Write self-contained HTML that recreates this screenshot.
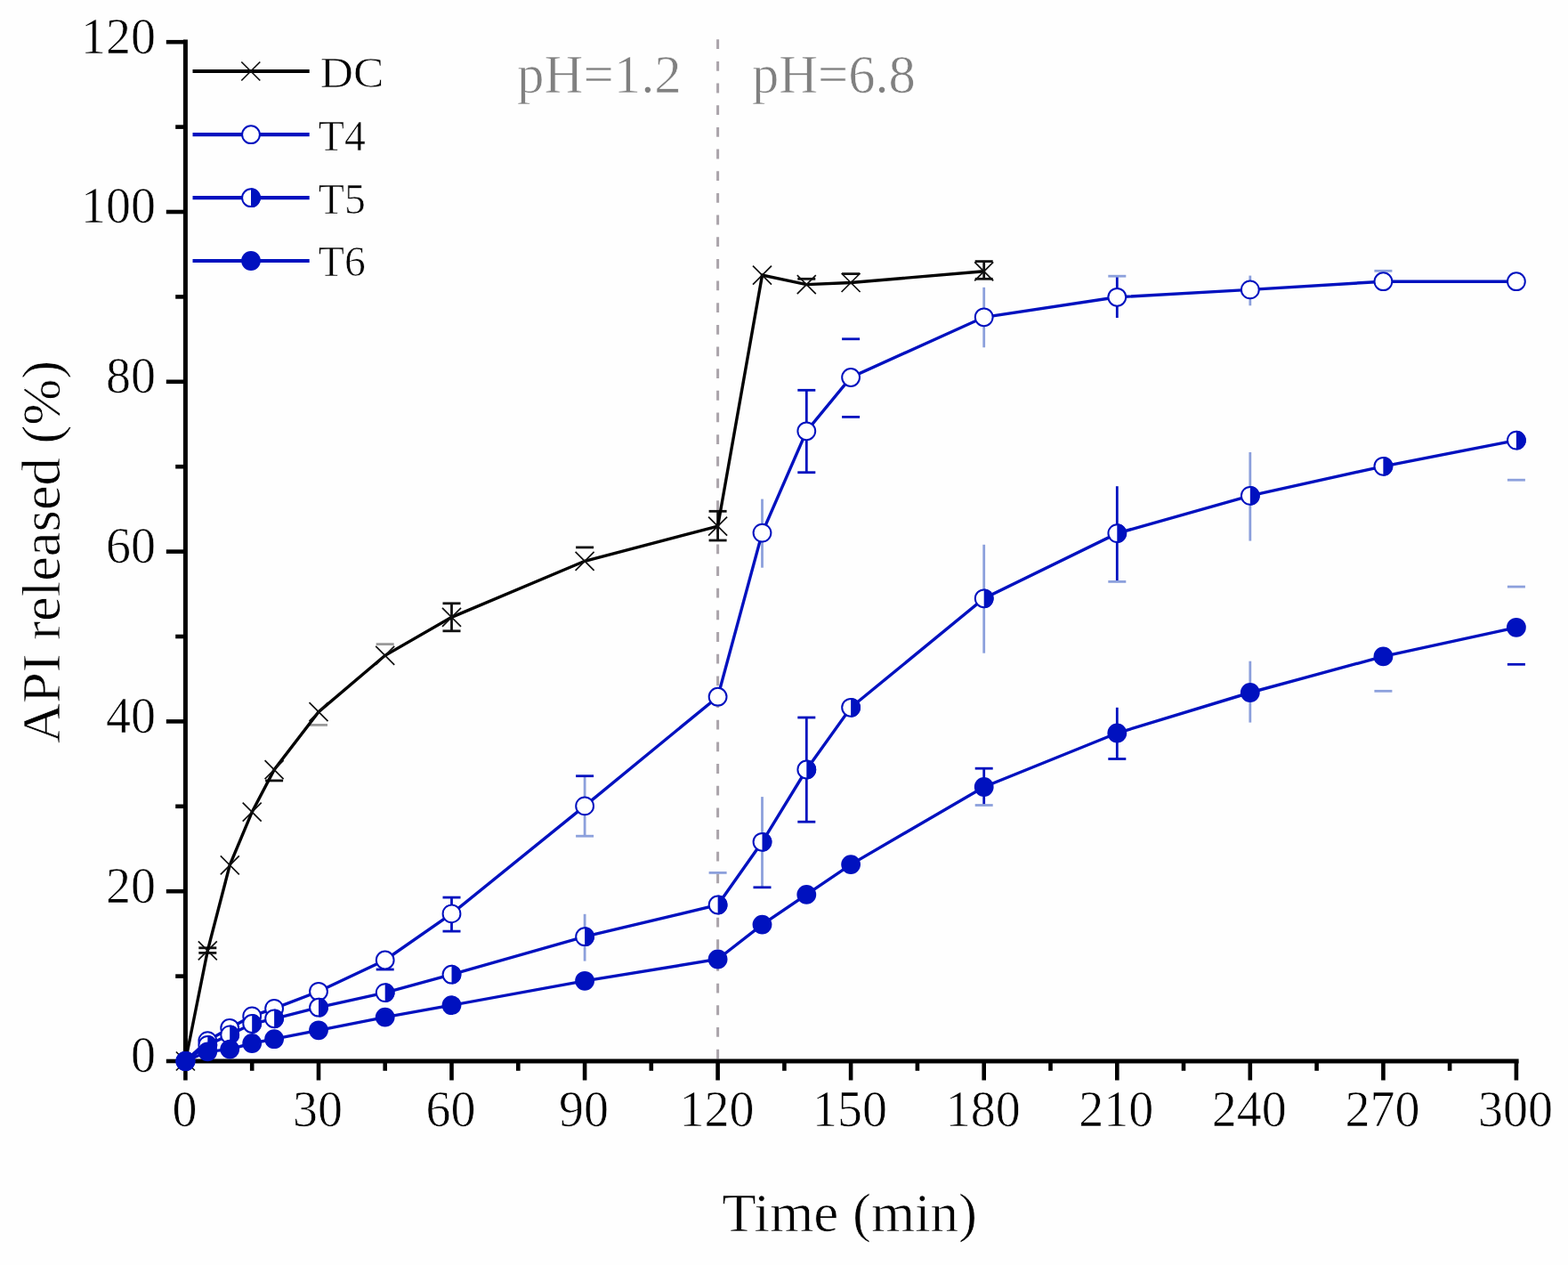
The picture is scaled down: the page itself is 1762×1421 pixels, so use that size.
<!DOCTYPE html>
<html><head><meta charset="utf-8"><title>API release chart</title>
<style>
html,body{margin:0;padding:0;background:#fefefe;}
svg{display:block;}
text{font-family:"Liberation Serif",serif;stroke:#fefefe;stroke-width:0.7px;}
</style></head><body>
<svg width="1762" height="1421" viewBox="0 0 1762 1421">
<rect x="0" y="0" width="1762" height="1421" fill="#fefefe"/>

<line x1="806.6" y1="44.3" x2="806.6" y2="1190" stroke="#aaa4aa" stroke-width="3" stroke-dasharray="10.8 13.86"/>
<line x1="208.4" y1="44.5" x2="208.4" y2="1194.5" stroke="#000" stroke-width="5"/>
<line x1="205.9" y1="1192.0" x2="1706.6" y2="1192.0" stroke="#000" stroke-width="5"/>
<line x1="186.8" y1="1192.0" x2="208.4" y2="1192.0" stroke="#000" stroke-width="4.6"/>
<line x1="197.2" y1="1096.6" x2="208.4" y2="1096.6" stroke="#000" stroke-width="4.6"/>
<line x1="186.8" y1="1001.2" x2="208.4" y2="1001.2" stroke="#000" stroke-width="4.6"/>
<line x1="197.2" y1="905.8" x2="208.4" y2="905.8" stroke="#000" stroke-width="4.6"/>
<line x1="186.8" y1="810.4" x2="208.4" y2="810.4" stroke="#000" stroke-width="4.6"/>
<line x1="197.2" y1="715.0" x2="208.4" y2="715.0" stroke="#000" stroke-width="4.6"/>
<line x1="186.8" y1="619.6" x2="208.4" y2="619.6" stroke="#000" stroke-width="4.6"/>
<line x1="197.2" y1="524.2" x2="208.4" y2="524.2" stroke="#000" stroke-width="4.6"/>
<line x1="186.8" y1="428.8" x2="208.4" y2="428.8" stroke="#000" stroke-width="4.6"/>
<line x1="197.2" y1="333.4" x2="208.4" y2="333.4" stroke="#000" stroke-width="4.6"/>
<line x1="186.8" y1="238.0" x2="208.4" y2="238.0" stroke="#000" stroke-width="4.6"/>
<line x1="197.2" y1="142.6" x2="208.4" y2="142.6" stroke="#000" stroke-width="4.6"/>
<line x1="186.8" y1="47.2" x2="208.4" y2="47.2" stroke="#000" stroke-width="4.6"/>
<line x1="208.4" y1="1192.0" x2="208.4" y2="1213.5" stroke="#000" stroke-width="4.6"/>
<line x1="283.2" y1="1192.0" x2="283.2" y2="1202.8" stroke="#000" stroke-width="4.6"/>
<line x1="358.0" y1="1192.0" x2="358.0" y2="1213.5" stroke="#000" stroke-width="4.6"/>
<line x1="432.7" y1="1192.0" x2="432.7" y2="1202.8" stroke="#000" stroke-width="4.6"/>
<line x1="507.5" y1="1192.0" x2="507.5" y2="1213.5" stroke="#000" stroke-width="4.6"/>
<line x1="582.3" y1="1192.0" x2="582.3" y2="1202.8" stroke="#000" stroke-width="4.6"/>
<line x1="657.1" y1="1192.0" x2="657.1" y2="1213.5" stroke="#000" stroke-width="4.6"/>
<line x1="731.8" y1="1192.0" x2="731.8" y2="1202.8" stroke="#000" stroke-width="4.6"/>
<line x1="806.6" y1="1192.0" x2="806.6" y2="1213.5" stroke="#000" stroke-width="4.6"/>
<line x1="881.4" y1="1192.0" x2="881.4" y2="1202.8" stroke="#000" stroke-width="4.6"/>
<line x1="956.1" y1="1192.0" x2="956.1" y2="1213.5" stroke="#000" stroke-width="4.6"/>
<line x1="1030.9" y1="1192.0" x2="1030.9" y2="1202.8" stroke="#000" stroke-width="4.6"/>
<line x1="1105.7" y1="1192.0" x2="1105.7" y2="1213.5" stroke="#000" stroke-width="4.6"/>
<line x1="1180.5" y1="1192.0" x2="1180.5" y2="1202.8" stroke="#000" stroke-width="4.6"/>
<line x1="1255.3" y1="1192.0" x2="1255.3" y2="1213.5" stroke="#000" stroke-width="4.6"/>
<line x1="1330.0" y1="1192.0" x2="1330.0" y2="1202.8" stroke="#000" stroke-width="4.6"/>
<line x1="1404.8" y1="1192.0" x2="1404.8" y2="1213.5" stroke="#000" stroke-width="4.6"/>
<line x1="1479.6" y1="1192.0" x2="1479.6" y2="1202.8" stroke="#000" stroke-width="4.6"/>
<line x1="1554.4" y1="1192.0" x2="1554.4" y2="1213.5" stroke="#000" stroke-width="4.6"/>
<line x1="1629.1" y1="1192.0" x2="1629.1" y2="1202.8" stroke="#000" stroke-width="4.6"/>
<line x1="1703.9" y1="1192.0" x2="1703.9" y2="1213.5" stroke="#000" stroke-width="4.6"/>
<g>
<line x1="223.3" y1="1064.8" x2="243.3" y2="1064.8" stroke="#111" stroke-width="2.8"/><line x1="223.3" y1="1070.4" x2="243.3" y2="1070.4" stroke="#111" stroke-width="2.8"/>
<line x1="298.1" y1="876.9" x2="318.1" y2="876.9" stroke="#111" stroke-width="2.8"/>
<line x1="348.0" y1="814.4" x2="368.0" y2="814.4" stroke="#9a9a9a" stroke-width="2.8"/>
<line x1="422.7" y1="723.6" x2="442.7" y2="723.6" stroke="#9a9a9a" stroke-width="2.8"/>
<line x1="507.5" y1="677.8" x2="507.5" y2="708.8" stroke="#111" stroke-width="2.8"/><line x1="497.5" y1="677.8" x2="517.5" y2="677.8" stroke="#111" stroke-width="2.8"/><line x1="497.5" y1="708.8" x2="517.5" y2="708.8" stroke="#111" stroke-width="2.8"/>
<line x1="657.1" y1="614.9" x2="657.1" y2="614.9" stroke="#9a9a9a" stroke-width="2.8"/><line x1="647.1" y1="614.9" x2="667.1" y2="614.9" stroke="#111" stroke-width="2.8"/>
<line x1="806.6" y1="574.3" x2="806.6" y2="607.0" stroke="#111" stroke-width="2.8"/><line x1="796.6" y1="574.3" x2="816.6" y2="574.3" stroke="#111" stroke-width="2.8"/><line x1="796.6" y1="607.0" x2="816.6" y2="607.0" stroke="#111" stroke-width="2.8"/>
<line x1="906.3" y1="313.3" x2="906.3" y2="313.3" stroke="#111" stroke-width="2.8"/><line x1="896.3" y1="313.3" x2="916.3" y2="313.3" stroke="#111" stroke-width="2.8"/>
<line x1="946.1" y1="307.6" x2="966.1" y2="307.6" stroke="#111" stroke-width="2.8"/>
<line x1="1105.7" y1="293.6" x2="1105.7" y2="313.3" stroke="#111" stroke-width="2.8"/><line x1="1095.7" y1="293.6" x2="1115.7" y2="293.6" stroke="#111" stroke-width="2.8"/><line x1="1095.7" y1="313.3" x2="1115.7" y2="313.3" stroke="#111" stroke-width="2.8"/>
<polyline points="208.4,1192.0 233.3,1067.8 258.2,971.9 283.2,912.1 308.1,864.6 358.0,799.6 432.7,736.3 507.5,693.4 657.1,630.3 806.6,591.2 856.5,309.1 906.3,319.6 956.1,317.5 1105.7,304.8" fill="none" stroke="#000" stroke-width="3.4" stroke-linejoin="miter"/>
<path d="M197.9,1181.5L218.9,1202.5M197.9,1202.5L218.9,1181.5" stroke="#111" stroke-width="1.7" fill="none"/>
<path d="M222.8,1057.3L243.8,1078.3M222.8,1078.3L243.8,1057.3" stroke="#111" stroke-width="1.7" fill="none"/>
<path d="M247.8,961.4L268.8,982.4M247.8,982.4L268.8,961.4" stroke="#111" stroke-width="1.7" fill="none"/>
<path d="M272.7,901.6L293.7,922.6M272.7,922.6L293.7,901.6" stroke="#111" stroke-width="1.7" fill="none"/>
<path d="M297.6,854.1L318.6,875.1M297.6,875.1L318.6,854.1" stroke="#111" stroke-width="1.7" fill="none"/>
<path d="M347.5,789.1L368.5,810.1M347.5,810.1L368.5,789.1" stroke="#111" stroke-width="1.7" fill="none"/>
<path d="M422.2,725.8L443.2,746.8M422.2,746.8L443.2,725.8" stroke="#111" stroke-width="1.7" fill="none"/>
<path d="M497.0,682.9L518.0,703.9M497.0,703.9L518.0,682.9" stroke="#111" stroke-width="1.7" fill="none"/>
<path d="M646.6,619.8L667.6,640.8M646.6,640.8L667.6,619.8" stroke="#111" stroke-width="1.7" fill="none"/>
<path d="M796.1,580.7L817.1,601.7M796.1,601.7L817.1,580.7" stroke="#111" stroke-width="1.7" fill="none"/>
<path d="M846.0,298.6L867.0,319.6M846.0,319.6L867.0,298.6" stroke="#111" stroke-width="1.7" fill="none"/>
<path d="M895.8,309.1L916.8,330.1M895.8,330.1L916.8,309.1" stroke="#111" stroke-width="1.7" fill="none"/>
<path d="M945.6,307.0L966.6,328.0M945.6,328.0L966.6,307.0" stroke="#111" stroke-width="1.7" fill="none"/>
<path d="M1095.2,294.3L1116.2,315.3M1095.2,315.3L1116.2,294.3" stroke="#111" stroke-width="1.7" fill="none"/>
</g>
<g>
<line x1="422.7" y1="1089.0" x2="442.7" y2="1089.0" stroke="#0011bf" stroke-width="2.8"/>
<line x1="507.5" y1="1008.1" x2="507.5" y2="1046.1" stroke="#0011bf" stroke-width="2.8"/><line x1="497.5" y1="1008.1" x2="517.5" y2="1008.1" stroke="#0011bf" stroke-width="2.8"/><line x1="497.5" y1="1046.1" x2="517.5" y2="1046.1" stroke="#0011bf" stroke-width="2.8"/>
<line x1="657.1" y1="871.7" x2="657.1" y2="939.2" stroke="#8ca0dc" stroke-width="2.8"/><line x1="647.1" y1="871.7" x2="667.1" y2="871.7" stroke="#0011bf" stroke-width="2.8"/><line x1="647.1" y1="939.2" x2="667.1" y2="939.2" stroke="#8ca0dc" stroke-width="2.8"/>
<line x1="856.5" y1="560.6" x2="856.5" y2="637.7" stroke="#8ca0dc" stroke-width="2.8"/>
<line x1="906.3" y1="438.3" x2="906.3" y2="530.7" stroke="#0011bf" stroke-width="2.8"/><line x1="896.3" y1="438.3" x2="916.3" y2="438.3" stroke="#0011bf" stroke-width="2.8"/><line x1="896.3" y1="530.7" x2="916.3" y2="530.7" stroke="#0011bf" stroke-width="2.8"/>
<line x1="946.1" y1="380.8" x2="966.1" y2="380.8" stroke="#0011bf" stroke-width="2.8"/><line x1="946.1" y1="468.4" x2="966.1" y2="468.4" stroke="#0011bf" stroke-width="2.8"/>
<line x1="1105.7" y1="322.8" x2="1105.7" y2="390.3" stroke="#8ca0dc" stroke-width="2.8"/>
<line x1="1255.3" y1="310.2" x2="1255.3" y2="357.0" stroke="#0011bf" stroke-width="2.8"/><line x1="1245.3" y1="310.2" x2="1265.3" y2="310.2" stroke="#8ca0dc" stroke-width="2.8"/>
<line x1="1404.8" y1="309.6" x2="1404.8" y2="343.3" stroke="#8ca0dc" stroke-width="2.8"/>
<line x1="1544.4" y1="304.3" x2="1564.4" y2="304.3" stroke="#8ca0dc" stroke-width="2.8"/>
<polyline points="208.4,1192.0 233.3,1169.1 258.2,1154.8 283.2,1141.4 308.1,1132.9 358.0,1113.8 432.7,1078.5 507.5,1026.4 657.1,905.4 806.6,782.7 856.5,598.6 906.3,484.3 956.1,424.0 1105.7,356.3 1255.3,333.8 1404.8,325.4 1554.4,316.2 1703.9,316.2" fill="none" stroke="#0011bf" stroke-width="3.4" stroke-linejoin="miter"/>
<circle cx="208.4" cy="1192.0" r="9.9" fill="#fff" stroke="#0011bf" stroke-width="2.0"/>
<circle cx="233.3" cy="1169.1" r="9.9" fill="#fff" stroke="#0011bf" stroke-width="2.0"/>
<circle cx="258.2" cy="1154.8" r="9.9" fill="#fff" stroke="#0011bf" stroke-width="2.0"/>
<circle cx="283.2" cy="1141.4" r="9.9" fill="#fff" stroke="#0011bf" stroke-width="2.0"/>
<circle cx="308.1" cy="1132.9" r="9.9" fill="#fff" stroke="#0011bf" stroke-width="2.0"/>
<circle cx="358.0" cy="1113.8" r="9.9" fill="#fff" stroke="#0011bf" stroke-width="2.0"/>
<circle cx="432.7" cy="1078.5" r="9.9" fill="#fff" stroke="#0011bf" stroke-width="2.0"/>
<circle cx="507.5" cy="1026.4" r="9.9" fill="#fff" stroke="#0011bf" stroke-width="2.0"/>
<circle cx="657.1" cy="905.4" r="9.9" fill="#fff" stroke="#0011bf" stroke-width="2.0"/>
<circle cx="806.6" cy="782.7" r="9.9" fill="#fff" stroke="#0011bf" stroke-width="2.0"/>
<circle cx="856.5" cy="598.6" r="9.9" fill="#fff" stroke="#0011bf" stroke-width="2.0"/>
<circle cx="906.3" cy="484.3" r="9.9" fill="#fff" stroke="#0011bf" stroke-width="2.0"/>
<circle cx="956.1" cy="424.0" r="9.9" fill="#fff" stroke="#0011bf" stroke-width="2.0"/>
<circle cx="1105.7" cy="356.3" r="9.9" fill="#fff" stroke="#0011bf" stroke-width="2.0"/>
<circle cx="1255.3" cy="333.8" r="9.9" fill="#fff" stroke="#0011bf" stroke-width="2.0"/>
<circle cx="1404.8" cy="325.4" r="9.9" fill="#fff" stroke="#0011bf" stroke-width="2.0"/>
<circle cx="1554.4" cy="316.2" r="9.9" fill="#fff" stroke="#0011bf" stroke-width="2.0"/>
<circle cx="1703.9" cy="316.2" r="9.9" fill="#fff" stroke="#0011bf" stroke-width="2.0"/>
</g>
<g>
<line x1="657.1" y1="1026.8" x2="657.1" y2="1079.6" stroke="#8ca0dc" stroke-width="2.8"/>
<line x1="806.6" y1="980.4" x2="806.6" y2="980.4" stroke="#8ca0dc" stroke-width="2.8"/><line x1="796.6" y1="980.4" x2="816.6" y2="980.4" stroke="#8ca0dc" stroke-width="2.8"/>
<line x1="856.5" y1="895.1" x2="856.5" y2="996.8" stroke="#8ca0dc" stroke-width="2.8"/><line x1="846.5" y1="996.8" x2="866.5" y2="996.8" stroke="#0011bf" stroke-width="2.8"/>
<line x1="906.3" y1="806.0" x2="906.3" y2="923.2" stroke="#0011bf" stroke-width="2.8"/><line x1="896.3" y1="806.0" x2="916.3" y2="806.0" stroke="#0011bf" stroke-width="2.8"/><line x1="896.3" y1="923.2" x2="916.3" y2="923.2" stroke="#0011bf" stroke-width="2.8"/>
<line x1="1105.7" y1="611.8" x2="1105.7" y2="733.7" stroke="#8ca0dc" stroke-width="2.8"/>
<line x1="1255.3" y1="546.2" x2="1255.3" y2="653.4" stroke="#0011bf" stroke-width="2.8"/><line x1="1245.3" y1="653.4" x2="1265.3" y2="653.4" stroke="#8ca0dc" stroke-width="2.8"/>
<line x1="1404.8" y1="508.0" x2="1404.8" y2="607.6" stroke="#8ca0dc" stroke-width="2.8"/>
<line x1="1693.9" y1="539.2" x2="1713.9" y2="539.2" stroke="#8ca0dc" stroke-width="2.8"/>
<polyline points="208.4,1192.0 233.3,1173.9 258.2,1162.4 283.2,1150.0 308.1,1144.3 358.0,1131.7 432.7,1115.1 507.5,1094.7 657.1,1052.2 806.6,1016.5 856.5,945.8 906.3,864.5 956.1,794.8 1105.7,672.3 1255.3,599.1 1404.8,556.9 1554.4,523.8 1703.9,494.6" fill="none" stroke="#0011bf" stroke-width="3.4" stroke-linejoin="miter"/>
<circle cx="208.4" cy="1192.0" r="9.9" fill="#fff" stroke="#0011bf" stroke-width="2.0"/><path d="M208.4,1181.1A10.9,10.9 0 0 1 208.4,1202.9Z" fill="#0011bf"/>
<circle cx="233.3" cy="1173.9" r="9.9" fill="#fff" stroke="#0011bf" stroke-width="2.0"/><path d="M233.3,1163.0A10.9,10.9 0 0 1 233.3,1184.8Z" fill="#0011bf"/>
<circle cx="258.2" cy="1162.4" r="9.9" fill="#fff" stroke="#0011bf" stroke-width="2.0"/><path d="M258.2,1151.5A10.9,10.9 0 0 1 258.2,1173.3Z" fill="#0011bf"/>
<circle cx="283.2" cy="1150.0" r="9.9" fill="#fff" stroke="#0011bf" stroke-width="2.0"/><path d="M283.2,1139.1A10.9,10.9 0 0 1 283.2,1160.9Z" fill="#0011bf"/>
<circle cx="308.1" cy="1144.3" r="9.9" fill="#fff" stroke="#0011bf" stroke-width="2.0"/><path d="M308.1,1133.4A10.9,10.9 0 0 1 308.1,1155.2Z" fill="#0011bf"/>
<circle cx="358.0" cy="1131.7" r="9.9" fill="#fff" stroke="#0011bf" stroke-width="2.0"/><path d="M358.0,1120.8A10.9,10.9 0 0 1 358.0,1142.6Z" fill="#0011bf"/>
<circle cx="432.7" cy="1115.1" r="9.9" fill="#fff" stroke="#0011bf" stroke-width="2.0"/><path d="M432.7,1104.2A10.9,10.9 0 0 1 432.7,1126.0Z" fill="#0011bf"/>
<circle cx="507.5" cy="1094.7" r="9.9" fill="#fff" stroke="#0011bf" stroke-width="2.0"/><path d="M507.5,1083.8A10.9,10.9 0 0 1 507.5,1105.6Z" fill="#0011bf"/>
<circle cx="657.1" cy="1052.2" r="9.9" fill="#fff" stroke="#0011bf" stroke-width="2.0"/><path d="M657.1,1041.3A10.9,10.9 0 0 1 657.1,1063.1Z" fill="#0011bf"/>
<circle cx="806.6" cy="1016.5" r="9.9" fill="#fff" stroke="#0011bf" stroke-width="2.0"/><path d="M806.6,1005.6A10.9,10.9 0 0 1 806.6,1027.4Z" fill="#0011bf"/>
<circle cx="856.5" cy="945.8" r="9.9" fill="#fff" stroke="#0011bf" stroke-width="2.0"/><path d="M856.5,934.9A10.9,10.9 0 0 1 856.5,956.7Z" fill="#0011bf"/>
<circle cx="906.3" cy="864.5" r="9.9" fill="#fff" stroke="#0011bf" stroke-width="2.0"/><path d="M906.3,853.6A10.9,10.9 0 0 1 906.3,875.4Z" fill="#0011bf"/>
<circle cx="956.1" cy="794.8" r="9.9" fill="#fff" stroke="#0011bf" stroke-width="2.0"/><path d="M956.1,783.9A10.9,10.9 0 0 1 956.1,805.7Z" fill="#0011bf"/>
<circle cx="1105.7" cy="672.3" r="9.9" fill="#fff" stroke="#0011bf" stroke-width="2.0"/><path d="M1105.7,661.4A10.9,10.9 0 0 1 1105.7,683.2Z" fill="#0011bf"/>
<circle cx="1255.3" cy="599.1" r="9.9" fill="#fff" stroke="#0011bf" stroke-width="2.0"/><path d="M1255.3,588.2A10.9,10.9 0 0 1 1255.3,610.0Z" fill="#0011bf"/>
<circle cx="1404.8" cy="556.9" r="9.9" fill="#fff" stroke="#0011bf" stroke-width="2.0"/><path d="M1404.8,546.0A10.9,10.9 0 0 1 1404.8,567.8Z" fill="#0011bf"/>
<circle cx="1554.4" cy="523.8" r="9.9" fill="#fff" stroke="#0011bf" stroke-width="2.0"/><path d="M1554.4,512.9A10.9,10.9 0 0 1 1554.4,534.7Z" fill="#0011bf"/>
<circle cx="1703.9" cy="494.6" r="9.9" fill="#fff" stroke="#0011bf" stroke-width="2.0"/><path d="M1703.9,483.7A10.9,10.9 0 0 1 1703.9,505.5Z" fill="#0011bf"/>
</g>
<g>
<line x1="1105.7" y1="863.2" x2="1105.7" y2="904.5" stroke="#0011bf" stroke-width="2.8"/><line x1="1095.7" y1="863.2" x2="1115.7" y2="863.2" stroke="#0011bf" stroke-width="2.8"/><line x1="1095.7" y1="904.5" x2="1115.7" y2="904.5" stroke="#8ca0dc" stroke-width="2.8"/>
<line x1="1255.3" y1="794.8" x2="1255.3" y2="852.5" stroke="#0011bf" stroke-width="2.8"/><line x1="1245.3" y1="852.5" x2="1265.3" y2="852.5" stroke="#0011bf" stroke-width="2.8"/>
<line x1="1404.8" y1="742.7" x2="1404.8" y2="811.6" stroke="#8ca0dc" stroke-width="2.8"/>
<line x1="1544.4" y1="776.3" x2="1564.4" y2="776.3" stroke="#8ca0dc" stroke-width="2.8"/>
<line x1="1693.9" y1="659.1" x2="1713.9" y2="659.1" stroke="#8ca0dc" stroke-width="2.8"/><line x1="1693.9" y1="746.3" x2="1713.9" y2="746.3" stroke="#0011bf" stroke-width="2.8"/>
<polyline points="208.4,1192.0 233.3,1181.3 258.2,1178.6 283.2,1172.0 308.1,1167.2 358.0,1157.3 432.7,1142.6 507.5,1129.2 657.1,1101.8 806.6,1077.5 856.5,1038.6 906.3,1004.9 956.1,971.1 1105.7,884.0 1255.3,823.5 1404.8,778.0 1554.4,737.4 1703.9,704.8" fill="none" stroke="#0011bf" stroke-width="3.4" stroke-linejoin="miter"/>
<circle cx="208.4" cy="1192.0" r="10.9" fill="#0011bf"/>
<circle cx="233.3" cy="1181.3" r="10.9" fill="#0011bf"/>
<circle cx="258.2" cy="1178.6" r="10.9" fill="#0011bf"/>
<circle cx="283.2" cy="1172.0" r="10.9" fill="#0011bf"/>
<circle cx="308.1" cy="1167.2" r="10.9" fill="#0011bf"/>
<circle cx="358.0" cy="1157.3" r="10.9" fill="#0011bf"/>
<circle cx="432.7" cy="1142.6" r="10.9" fill="#0011bf"/>
<circle cx="507.5" cy="1129.2" r="10.9" fill="#0011bf"/>
<circle cx="657.1" cy="1101.8" r="10.9" fill="#0011bf"/>
<circle cx="806.6" cy="1077.5" r="10.9" fill="#0011bf"/>
<circle cx="856.5" cy="1038.6" r="10.9" fill="#0011bf"/>
<circle cx="906.3" cy="1004.9" r="10.9" fill="#0011bf"/>
<circle cx="956.1" cy="971.1" r="10.9" fill="#0011bf"/>
<circle cx="1105.7" cy="884.0" r="10.9" fill="#0011bf"/>
<circle cx="1255.3" cy="823.5" r="10.9" fill="#0011bf"/>
<circle cx="1404.8" cy="778.0" r="10.9" fill="#0011bf"/>
<circle cx="1554.4" cy="737.4" r="10.9" fill="#0011bf"/>
<circle cx="1703.9" cy="704.8" r="10.9" fill="#0011bf"/>
</g>
<text x="175" y="1204.3" font-size="56" text-anchor="end" fill="#000">0</text>
<text x="175" y="1013.5" font-size="56" text-anchor="end" fill="#000">20</text>
<text x="175" y="822.7" font-size="56" text-anchor="end" fill="#000">40</text>
<text x="175" y="631.9" font-size="56" text-anchor="end" fill="#000">60</text>
<text x="175" y="441.1" font-size="56" text-anchor="end" fill="#000">80</text>
<text x="175" y="250.3" font-size="56" text-anchor="end" fill="#000">100</text>
<text x="175" y="59.5" font-size="56" text-anchor="end" fill="#000">120</text>
<text x="207.4" y="1265" font-size="56" text-anchor="middle" fill="#000">0</text>
<text x="357.0" y="1265" font-size="56" text-anchor="middle" fill="#000">30</text>
<text x="506.5" y="1265" font-size="56" text-anchor="middle" fill="#000">60</text>
<text x="656.1" y="1265" font-size="56" text-anchor="middle" fill="#000">90</text>
<text x="805.6" y="1265" font-size="56" text-anchor="middle" fill="#000">120</text>
<text x="955.1" y="1265" font-size="56" text-anchor="middle" fill="#000">150</text>
<text x="1104.7" y="1265" font-size="56" text-anchor="middle" fill="#000">180</text>
<text x="1254.3" y="1265" font-size="56" text-anchor="middle" fill="#000">210</text>
<text x="1403.8" y="1265" font-size="56" text-anchor="middle" fill="#000">240</text>
<text x="1553.4" y="1265" font-size="56" text-anchor="middle" fill="#000">270</text>
<text x="1702.9" y="1265" font-size="56" text-anchor="middle" fill="#000">300</text>
<line x1="216.5" y1="80.0" x2="347.7" y2="80.0" stroke="#000" stroke-width="4.2"/>
<line x1="216.5" y1="151.2" x2="347.7" y2="151.2" stroke="#0011bf" stroke-width="4.2"/>
<line x1="216.5" y1="222.2" x2="347.7" y2="222.2" stroke="#0011bf" stroke-width="4.2"/>
<line x1="216.5" y1="293.0" x2="347.7" y2="293.0" stroke="#0011bf" stroke-width="4.2"/>
<path d="M271.3,69.5L292.3,90.5M271.3,90.5L292.3,69.5" stroke="#111" stroke-width="1.7" fill="none"/>
<circle cx="282.0" cy="151.2" r="9.9" fill="#fff" stroke="#0011bf" stroke-width="2.0"/>
<circle cx="282.0" cy="222.2" r="9.9" fill="#fff" stroke="#0011bf" stroke-width="2.0"/><path d="M282.0,211.3A10.9,10.9 0 0 1 282.0,233.1Z" fill="#0011bf"/>
<circle cx="282.0" cy="293.0" r="10.9" fill="#0011bf"/>
<text x="359.8" y="98.4" font-size="49" fill="#000" textLength="71.7" lengthAdjust="spacingAndGlyphs">DC</text>
<text x="357.8" y="169.0" font-size="49" fill="#000" textLength="53" lengthAdjust="spacingAndGlyphs">T4</text>
<text x="357.8" y="240.0" font-size="49" fill="#000" textLength="53" lengthAdjust="spacingAndGlyphs">T5</text>
<text x="357.8" y="310.2" font-size="49" fill="#000" textLength="53" lengthAdjust="spacingAndGlyphs">T6</text>
<text x="581" y="103.5" font-size="61.5" fill="#808080" textLength="184.8" lengthAdjust="spacingAndGlyphs">pH=1.2</text>
<text x="845" y="104" font-size="61.5" fill="#808080" textLength="183.9" lengthAdjust="spacingAndGlyphs">pH=6.8</text>
<text x="811.3" y="1382.5" font-size="61" fill="#000" textLength="286.8" lengthAdjust="spacingAndGlyphs">Time (min)</text>
<text transform="translate(66.7,835) rotate(-90)" x="0" y="0" font-size="62" fill="#000" textLength="430.1" lengthAdjust="spacingAndGlyphs">API released (%)</text>
</svg></body></html>
